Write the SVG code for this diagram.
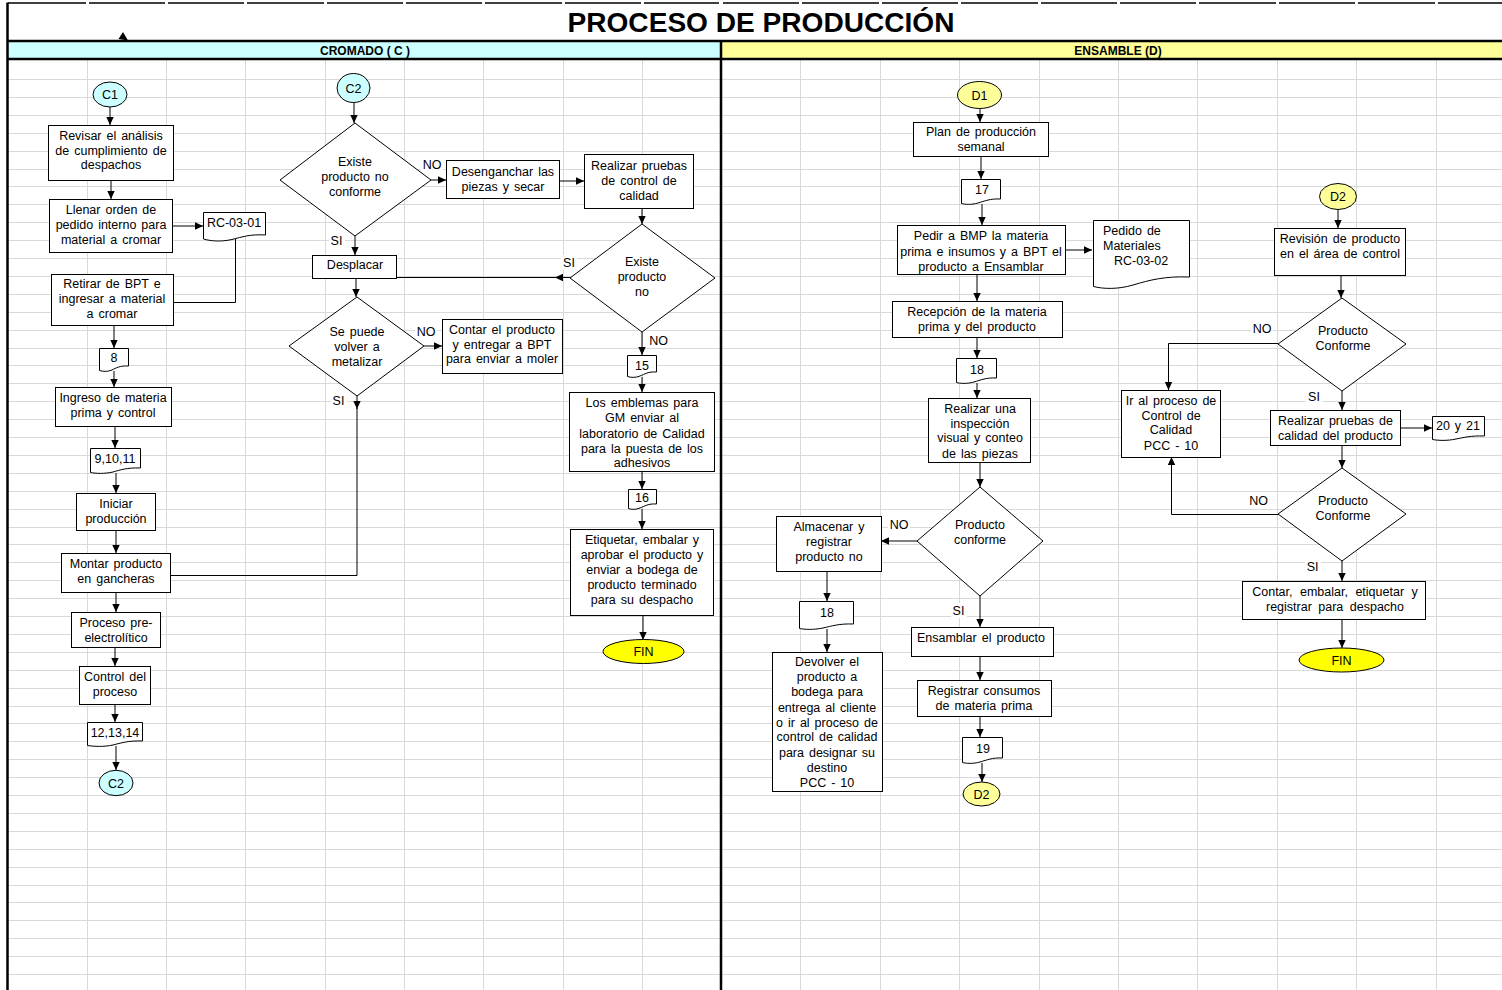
<svg xmlns="http://www.w3.org/2000/svg" width="1502" height="990" viewBox="0 0 1502 990">
<defs>
<marker id="ah" markerUnits="userSpaceOnUse" markerWidth="9" markerHeight="9" refX="8" refY="4.5" orient="auto">
<path d="M0,0.8 L8,4.5 L0,8.2 Z" fill="#000"/>
</marker>
</defs>
<style>
.grid{stroke:#d9d9d9;stroke-width:1;fill:none}
.box{fill:#fff;stroke:#000;stroke-width:1}
.c{fill:none;stroke:#000;stroke-width:1}
.arr{marker-end:url(#ah)}
.t{font-family:"Liberation Sans",Arial,sans-serif;font-size:12.5px;word-spacing:1.5px;fill:#000;text-anchor:middle}
.lbg{fill:#fff}
.cyan{fill:#ccffff;stroke:#000;stroke-width:1}
.ylw{fill:#ffff99;stroke:#000;stroke-width:1}
.fin{fill:#ffff00;stroke:#000;stroke-width:1}
.hdr{font-family:"Liberation Sans",Arial,sans-serif;font-size:12px;font-weight:bold;fill:#000;text-anchor:middle}
.thick{stroke:#000;stroke-width:2.5;fill:none}
</style>

<!-- sheet background and grid -->
<rect x="0" y="0" width="1502" height="990" fill="#fff"/>
<g id="grid">
<path class="grid" d="M8,79.5H1502M8,97.5H1502M8,115.5H1502M8,133.5H1502M8,151.5H1502M8,169.5H1502M8,186.5H1502M8,204.5H1502M8,222.5H1502M8,240.5H1502M8,258.5H1502M8,276.5H1502M8,294.5H1502M8,312.5H1502M8,330.5H1502M8,348.5H1502M8,365.5H1502M8,383.5H1502M8,401.5H1502M8,419.5H1502M8,437.5H1502M8,455.5H1502M8,473.5H1502M8,491.5H1502M8,509.5H1502M8,527.5H1502M8,544.5H1502M8,562.5H1502M8,580.5H1502M8,598.5H1502M8,616.5H1502M8,634.5H1502M8,652.5H1502M8,670.5H1502M8,688.5H1502M8,706.5H1502M8,723.5H1502M8,741.5H1502M8,759.5H1502M8,777.5H1502M8,795.5H1502M8,813.5H1502M8,831.5H1502M8,849.5H1502M8,867.5H1502M8,885.5H1502M8,902.5H1502M8,920.5H1502M8,938.5H1502M8,956.5H1502M8,974.5H1502"/>
<path class="grid" d="M87.5,60V990M166.5,60V990M245.5,60V990M325.5,60V990M404.5,60V990M483.5,60V990M563.5,60V990M642.5,60V990M800.5,60V990M880.5,60V990M959.5,60V990M1039.5,60V990M1118.5,60V990M1197.5,60V990M1277.5,60V990M1356.5,60V990M1436.5,60V990"/>
</g>

<!-- title row -->
<g id="title">
<path d="M8,3H86M89,3H165M168,3H244M247,3H324M327,3H403M406,3H482M485,3H562M565,3H641M644,3H719M723,3H799M802,3H879M882,3H958M961,3H1038M1041,3H1117M1120,3H1196M1199,3H1276M1279,3H1355M1358,3H1435M1438,3H1502" stroke="#000" stroke-width="1.5" fill="none"/>
<text x="761" y="31.5" font-family="'Liberation Sans',Arial,sans-serif" font-size="27" font-weight="bold" text-anchor="middle" textLength="387" lengthAdjust="spacingAndGlyphs">PROCESO DE PRODUCCIÓN</text>
<polygon points="123,32 118.5,39 128,40.5" fill="#000"/>
</g>

<!-- lane headers -->
<g id="lanes">
<rect x="8" y="41" width="713" height="18" fill="#ccffff"/>
<rect x="721" y="41" width="781" height="18" fill="#ffff99"/>
<path class="thick" d="M7,41H1502M7,59H1502"/>
<path class="thick" d="M7.5,2.5V990M721,41V990"/>
<text class="hdr" x="365" y="54.5">CROMADO ( C )</text>
<text class="hdr" x="1118" y="54.5">ENSAMBLE (D)</text>
</g>

<!-- connectors -->
<g id="connectors">
<path class="c arr" d="M110,107V125"/>
<path class="c arr" d="M111,180V199"/>
<path class="c arr" d="M172,226H203"/>
<path class="c" d="M235.5,237V302.5H173"/>
<path class="c arr" d="M114,326V348"/>
<path class="c arr" d="M114,371V387"/>
<path class="c arr" d="M115,426V448"/>
<path class="c arr" d="M116,473V493"/>
<path class="c arr" d="M116,530V553"/>
<path class="c arr" d="M116,592V612"/>
<path class="c arr" d="M115,647V666"/>
<path class="c arr" d="M115,704V722"/>
<path class="c arr" d="M116,746V770"/>

<path class="c arr" d="M354,102V123"/>
<path class="c arr" d="M431,180H446"/>
<path class="c arr" d="M559,181H584"/>
<path class="c arr" d="M642,208V224"/>
<path class="c arr" d="M570,277.5H555"/>
<path class="c" d="M556,277.5H397"/>
<path class="c arr" d="M355,236V255"/>
<path class="c arr" d="M356,278V297"/>
<path class="c arr" d="M424,346H442"/>
<path class="c arr" d="M357,396V409"/>
<path class="c" d="M357,408V575.5H171"/>
<path class="c arr" d="M642,332V355"/>
<path class="c arr" d="M642,377V392"/>
<path class="c arr" d="M642,471V489"/>
<path class="c arr" d="M642,509V529"/>
<path class="c arr" d="M643,615V640"/>

<path class="c arr" d="M980,108V122"/>
<path class="c arr" d="M981,156V179"/>
<path class="c arr" d="M982,204V225"/>
<path class="c arr" d="M1065,250H1092"/>
<path class="c arr" d="M977,274V301"/>
<path class="c arr" d="M977,337V358"/>
<path class="c arr" d="M977,383V398"/>
<path class="c arr" d="M980,462V487"/>
<path class="c arr" d="M917,541H881"/>
<path class="c arr" d="M827,571V601"/>
<path class="c arr" d="M827,629V652"/>
<path class="c arr" d="M980,596V627"/>
<path class="c arr" d="M980,656V680"/>
<path class="c arr" d="M980,716V737"/>
<path class="c arr" d="M982,763V782"/>

<path class="c arr" d="M1338,209V228"/>
<path class="c arr" d="M1341,276V298"/>
<path class="c arr" d="M1278,343.5H1168.5V390"/>
<path class="c arr" d="M1342,391V410"/>
<path class="c arr" d="M1401,428H1432"/>
<path class="c arr" d="M1342,446V468"/>
<path class="c arr" d="M1278,514.5H1171.5V457"/>
<path class="c arr" d="M1342,561V581"/>
<path class="c arr" d="M1342,619V648"/>
</g>

<!-- branch labels -->
<g id="labels">
<rect class="lbg" x="421" y="157" width="22" height="15"/><text class="t" x="432" y="168.5">NO</text>
<rect class="lbg" x="329" y="233" width="16" height="15"/><text class="t" x="336.5" y="244.5">SI</text>
<rect class="lbg" x="561" y="255" width="16" height="15"/><text class="t" x="569" y="266.5">SI</text>
<rect class="lbg" x="648" y="333" width="22" height="15"/><text class="t" x="658.5" y="344.5">NO</text>
<rect class="lbg" x="415" y="324" width="22" height="15"/><text class="t" x="426" y="336">NO</text>
<rect class="lbg" x="331" y="393" width="16" height="15"/><text class="t" x="338.5" y="404.5">SI</text>
<rect class="lbg" x="888" y="517" width="22" height="15"/><text class="t" x="899" y="528.5">NO</text>
<rect class="lbg" x="951" y="603" width="16" height="15"/><text class="t" x="958.5" y="615">SI</text>
<rect class="lbg" x="1251" y="321" width="22" height="15"/><text class="t" x="1262" y="332.5">NO</text>
<rect class="lbg" x="1306" y="389" width="16" height="15"/><text class="t" x="1314" y="401">SI</text>
<rect class="lbg" x="1247" y="493" width="22" height="15"/><text class="t" x="1258.5" y="505">NO</text>
<rect class="lbg" x="1305" y="559" width="16" height="15"/><text class="t" x="1312.7" y="571">SI</text>
</g>

<!-- CROMADO lane nodes -->
<g id="c1"><ellipse class="cyan" cx="110" cy="94.5" rx="17" ry="12.5"/><text class="t" x="110" y="99">C1</text></g>
<g id="revisar"><rect class="box" x="48.5" y="125.5" width="125" height="55"/><text class="t" x="111" y="140">Revisar el análisis</text><text class="t" x="111" y="154.5">de cumplimiento de</text><text class="t" x="111" y="169">despachos</text></g>
<g id="llenar"><rect class="box" x="49.5" y="199.5" width="123" height="53"/><text class="t" x="111" y="214">Llenar orden de</text><text class="t" x="111" y="229">pedido interno para</text><text class="t" x="111" y="243.5">material a cromar</text></g>
<g id="rc0301"><path class="box" d="M203.5,212.5H265.5V235C250,234 242,237 232,239.5C221,242 210,241 203.5,239Z"/><text class="t" x="234" y="227">RC-03-01</text></g>
<g id="retirar"><rect class="box" x="51.5" y="274.5" width="122" height="51"/><text class="t" x="112" y="288">Retirar de BPT e</text><text class="t" x="112" y="303">ingresar a material</text><text class="t" x="112" y="318">a cromar</text></g>
<g id="doc8"><path class="box" d="M99.5,348.5H128.5V366C120,365.5 116,368 112,370C107,372 103,371.5 99.5,370.5Z"/><text class="t" x="114" y="362">8</text></g>
<g id="ingreso"><rect class="box" x="55.5" y="387.5" width="116" height="39"/><text class="t" x="113" y="402">Ingreso de materia</text><text class="t" x="113" y="417">prima y control</text></g>
<g id="doc91011"><path class="box" d="M90.5,448.5H140.5V468C127,467.5 120,470 113,472C104,474 96,473.5 90.5,472.5Z"/><text class="t" x="115" y="462.5">9,10,11</text></g>
<g id="iniciar"><rect class="box" x="76.5" y="493.5" width="79" height="37"/><text class="t" x="116" y="507.5">Iniciar</text><text class="t" x="116" y="522.5">producción</text></g>
<g id="montar"><rect class="box" x="61.5" y="553.5" width="109" height="39"/><text class="t" x="116" y="568">Montar producto</text><text class="t" x="116" y="582.5">en gancheras</text></g>
<g id="preelectro"><rect class="box" x="71.5" y="612.5" width="89" height="35"/><text class="t" x="116" y="627">Proceso pre-</text><text class="t" x="116" y="642">electrolítico</text></g>
<g id="control"><rect class="box" x="79.5" y="666.5" width="71" height="38"/><text class="t" x="115" y="681">Control del</text><text class="t" x="115" y="696">proceso</text></g>
<g id="doc121314"><path class="box" d="M87.5,722.5H142.5V741C128,740.5 121,743 113,745C104,747 94,746.5 87.5,745.5Z"/><text class="t" x="115" y="737">12,13,14</text></g>
<g id="c2end"><ellipse class="cyan" cx="116" cy="783" rx="17" ry="12.7"/><text class="t" x="116" y="787.5">C2</text></g>

<g id="c2"><ellipse class="cyan" cx="353.5" cy="88" rx="16.5" ry="14.5"/><text class="t" x="353.5" y="92.5">C2</text></g>
<g id="existe1"><polygon class="box" points="355,123 431,180 355,236 280,180"/><text class="t" x="355" y="166">Existe</text><text class="t" x="355" y="181">producto no</text><text class="t" x="355" y="196">conforme</text></g>
<g id="desenganchar"><rect class="box" x="446.5" y="160.5" width="113" height="38"/><text class="t" x="503" y="175.5">Desenganchar las</text><text class="t" x="503" y="190.5">piezas y secar</text></g>
<g id="pruebas"><rect class="box" x="584.5" y="154.5" width="109" height="54"/><text class="t" x="639" y="169.5">Realizar pruebas</text><text class="t" x="639" y="184.5">de control de</text><text class="t" x="639" y="199.5">calidad</text></g>
<g id="existe2"><polygon class="box" points="642,224 715,278 642,332 570,278"/><text class="t" x="642" y="266">Existe</text><text class="t" x="642" y="281">producto</text><text class="t" x="642" y="296">no</text></g>
<g id="desplacar"><rect class="box" x="312.5" y="255.5" width="84" height="23"/><text class="t" x="355" y="268.5">Desplacar</text></g>
<g id="metalizar"><polygon class="box" points="357,297 424,346 357,396 289,346"/><text class="t" x="357" y="336">Se puede</text><text class="t" x="357" y="351">volver a</text><text class="t" x="357" y="366">metalizar</text></g>
<g id="contar"><rect class="box" x="442.5" y="319.5" width="120" height="54"/><text class="t" x="502" y="333.5">Contar el producto</text><text class="t" x="502" y="348.5">y entregar a BPT</text><text class="t" x="502" y="363">para enviar a moler</text></g>
<g id="doc15"><path class="box" d="M627.5,355.5H656.5V372C648,371.5 645,374 640,376C635,378 631,377.5 627.5,376.5Z"/><text class="t" x="642" y="369.5">15</text></g>
<g id="emblemas"><rect class="box" x="569.5" y="392.5" width="145" height="79"/><text class="t" x="642" y="406.5">Los emblemas para</text><text class="t" x="642" y="422">GM enviar al</text><text class="t" x="642" y="437.5">laboratorio de Calidad</text><text class="t" x="642" y="452.5">para la puesta de los</text><text class="t" x="642" y="466.5">adhesivos</text></g>
<g id="doc16"><path class="box" d="M628.5,489.5H656.5V504C648,503.5 645,506 640,508C635,510 631,509.5 628.5,508.5Z"/><text class="t" x="642" y="501.5">16</text></g>
<g id="etiquetar"><rect class="box" x="570.5" y="529.5" width="143" height="86"/><text class="t" x="642" y="543.5">Etiquetar, embalar y</text><text class="t" x="642" y="558.5">aprobar el producto y</text><text class="t" x="642" y="573.5">enviar a bodega de</text><text class="t" x="642" y="589">producto terminado</text><text class="t" x="642" y="604">para su despacho</text></g>
<g id="fin1"><ellipse class="fin" cx="643.5" cy="651.5" rx="40.5" ry="12"/><text class="t" x="643.5" y="656">FIN</text></g>

<!-- ENSAMBLE lane nodes -->
<g id="d1"><ellipse class="ylw" cx="979.5" cy="95" rx="22" ry="13.5"/><text class="t" x="979.5" y="99.5">D1</text></g>
<g id="plan"><rect class="box" x="913.5" y="122.5" width="135" height="34"/><text class="t" x="981" y="136">Plan de producción</text><text class="t" x="981" y="151">semanal</text></g>
<g id="doc17"><path class="box" d="M961.5,179.5H1000.5V199C990,198.5 985,201 978,203C971,205 965,204.5 961.5,203.5Z"/><text class="t" x="982" y="193.5">17</text></g>
<g id="pedir"><rect class="box" x="897.5" y="225.5" width="168" height="49"/><text class="t" x="981" y="240">Pedir a BMP la materia</text><text class="t" x="981" y="255.5">prima e insumos y a BPT el</text><text class="t" x="981" y="270.5">producto a Ensamblar</text></g>
<g id="pedido"><path class="box" d="M1093.5,220.5H1189.5V277C1165,276 1150,280 1133,285C1118,289.5 1103,289 1093.5,286.5Z"/><text class="t" x="1103" y="235" style="text-anchor:start">Pedido de</text><text class="t" x="1103" y="249.5" style="text-anchor:start">Materiales</text><text class="t" x="1114" y="264.5" style="text-anchor:start">RC-03-02</text></g>
<g id="recepcion"><rect class="box" x="892.5" y="301.5" width="170" height="36"/><text class="t" x="977" y="316">Recepción de la materia</text><text class="t" x="977" y="331">prima y del producto</text></g>
<g id="doc18a"><path class="box" d="M956.5,358.5H996.5V378C986,377.5 981,380 974,382C967,384 960,383.5 956.5,382.5Z"/><text class="t" x="977" y="374">18</text></g>
<g id="inspeccion"><rect class="box" x="928.5" y="398.5" width="102" height="64"/><text class="t" x="980" y="412.5">Realizar una</text><text class="t" x="980" y="427.5">inspección</text><text class="t" x="980" y="442">visual y conteo</text><text class="t" x="980" y="457.5">de las piezas</text></g>
<g id="conforme1"><polygon class="box" points="980,487 1043,541 980,596 917,541"/><text class="t" x="980" y="529">Producto</text><text class="t" x="980" y="543.5">conforme</text></g>
<g id="almacenar"><rect class="box" x="776.5" y="516.5" width="105" height="55"/><text class="t" x="829" y="531">Almacenar y</text><text class="t" x="829" y="546">registrar</text><text class="t" x="829" y="561">producto no</text></g>
<g id="doc18b"><path class="box" d="M799.5,601.5H853.5V624C839,623.5 832,626 823,628C813,630 805,629.5 799.5,628.5Z"/><text class="t" x="827" y="616.5">18</text></g>
<g id="devolver"><rect class="box" x="772.5" y="652.5" width="110" height="139"/><text class="t" x="827" y="666">Devolver el</text><text class="t" x="827" y="681">producto a</text><text class="t" x="827" y="696">bodega para</text><text class="t" x="827" y="711.5">entrega al cliente</text><text class="t" x="827" y="726.5">o ir al proceso de</text><text class="t" x="827" y="741">control de calidad</text><text class="t" x="827" y="756.5">para designar su</text><text class="t" x="827" y="772">destino</text><text class="t" x="827" y="786.5">PCC - 10</text></g>
<g id="ensamblar"><rect class="box" x="911.5" y="627.5" width="142" height="29"/><text class="t" x="981" y="642">Ensamblar  el producto</text></g>
<g id="registrar"><rect class="box" x="917.5" y="680.5" width="134" height="36"/><text class="t" x="984" y="695">Registrar consumos</text><text class="t" x="984" y="710">de materia prima</text></g>
<g id="doc19"><path class="box" d="M962.5,737.5H1002.5V758C992,757.5 987,760 980,762C973,764 966,763.5 962.5,762.5Z"/><text class="t" x="983" y="752.5">19</text></g>
<g id="d2end"><ellipse class="ylw" cx="981.5" cy="794" rx="18.5" ry="12"/><text class="t" x="981.5" y="798.5">D2</text></g>

<g id="d2"><ellipse class="ylw" cx="1338" cy="196.5" rx="18.5" ry="13"/><text class="t" x="1338" y="201">D2</text></g>
<g id="revision"><rect class="box" x="1274.5" y="228.5" width="131" height="47"/><text class="t" x="1340" y="243">Revisión de producto</text><text class="t" x="1340" y="258">en el área de control</text></g>
<g id="conforme2"><polygon class="box" points="1342,298 1406,344 1342,391 1278,344"/><text class="t" x="1343" y="335">Producto</text><text class="t" x="1343" y="350">Conforme</text></g>
<g id="iralproceso"><rect class="box" x="1121.5" y="390.5" width="99" height="67"/><text class="t" x="1171" y="405">Ir al proceso de</text><text class="t" x="1171" y="419.5">Control de</text><text class="t" x="1171" y="433.5">Calidad</text><text class="t" x="1171" y="450">PCC - 10</text></g>
<g id="pruebascalidad"><rect class="box" x="1270.5" y="410.5" width="130" height="35"/><text class="t" x="1335.5" y="424.5">Realizar pruebas de</text><text class="t" x="1335.5" y="439.5">calidad del producto</text></g>
<g id="doc2021"><path class="box" d="M1432.5,416.5H1484.5V436C1471,435.5 1464,437.5 1456,439C1447,441 1438,440.5 1432.5,439.5Z"/><text class="t" x="1458" y="430">20 y 21</text></g>
<g id="conforme3"><polygon class="box" points="1342,468 1406,514 1342,561 1278,514"/><text class="t" x="1343" y="505">Producto</text><text class="t" x="1343" y="520">Conforme</text></g>
<g id="contarembalar"><rect class="box" x="1242.5" y="581.5" width="183" height="38"/><text class="t" x="1335" y="596" style="word-spacing:4px">Contar, embalar, etiquetar y</text><text class="t" x="1335" y="611" style="word-spacing:3px">registrar para despacho</text></g>
<g id="fin2"><ellipse class="fin" cx="1341.5" cy="660" rx="42.5" ry="12"/><text class="t" x="1341.5" y="664.5">FIN</text></g>
</svg>
